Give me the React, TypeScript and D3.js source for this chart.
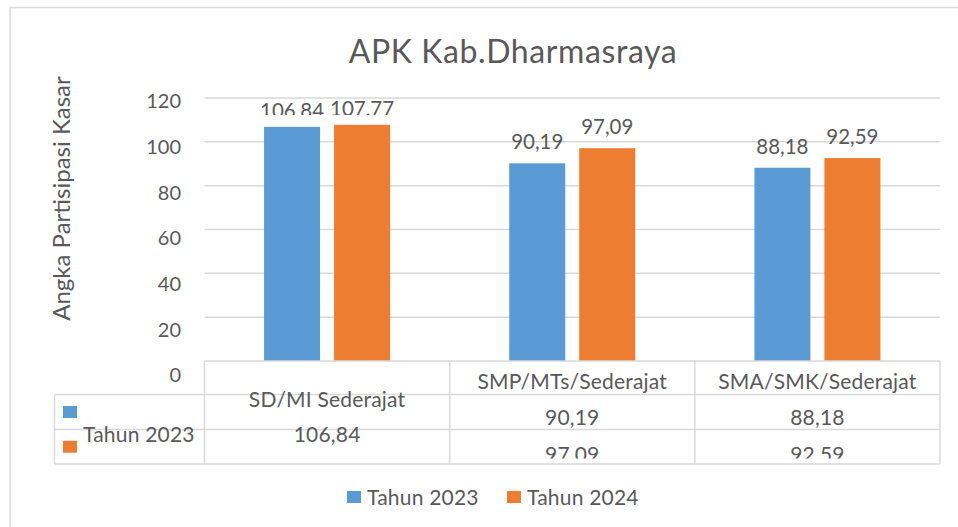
import React from 'react';
import * as d3 from 'd3';

const categories = ['SD/MI Sederajat', 'SMP/MTs/Sederajat', 'SMA/SMK/Sederajat'];
const seriesNames = ['Tahun 2023', 'Tahun 2024'];
const values2023 = [106.84, 90.19, 88.18];
const values2024 = [107.77, 97.09, 92.59];
const yTicks = [0, 20, 40, 60, 80, 100, 120];
const seriesColors = ['#5B9BD5', '#ED7D31'];
const titleText = 'APK Kab.Dharmasraya';
const yTitle = 'Angka Partisipasi Kasar';

const W = 958;
const H = 527;
const FONT = 'Lato, "Open Sans", sans-serif';
const TEXT = '#595959';
const GRID = '#D9D9D9';

export default function App() {
  const series = [values2023, values2024];
  const plotL = 204.5, plotR = 940, plotT = 98, plotB = 361;
  const x0 = d3.scaleBand<string>().domain(categories).range([plotL, plotR]);
  const groupW = x0.bandwidth() * 0.514;
  const x1 = d3.scaleBand<string>().domain(seriesNames).range([0, groupW]).paddingInner(0.2);
  const y = d3.scaleLinear().domain([0, 120]).range([plotB, plotT]);
  const yLab = d3.scaleLinear().domain([0, 120]).range([375, 101]);
  const fmt = (v: number) => d3.format('.2f')(v).replace('.', ',');
  const gx = (c: string) => (x0(c) as number) + (x0.bandwidth() - groupW) / 2;

  const rowLines = [394.5, 429.5, 464];
  const rowY = [381.5, 417, 454];
  const shift = 17.5;
  const legendColL = 54.5;
  const bottomLegendX = [347, 507];

  return (
    <svg width={W} height={H} style={{ position: 'absolute', left: 0, top: 0, background: '#fff' }} fontFamily={FONT}>
      <defs>
        <clipPath id="tableClip">
          <rect x={0} y={361} width={W} height={458.5 - 361} />
        </clipPath>
        <clipPath id="firstLabelClip">
          <rect x={0} y={0} width={W} height={115} />
        </clipPath>
      </defs>
      <rect x={0} y={0} width={W} height={H} fill="#fff" />
      {/* outer frame */}
      <line x1={10} x2={W} y1={7.5} y2={7.5} stroke={GRID} strokeWidth={1.5} />
      <line x1={10} x2={10} y1={7.5} y2={H} stroke={GRID} strokeWidth={1.5} />

      {/* title */}
      <text x={513} y={63} textAnchor="middle" fontSize={32} letterSpacing={0.6} fill={TEXT}>{titleText}</text>

      {/* y axis title */}
      <text transform={`translate(70,198.5) rotate(-90)`} textAnchor="middle" fontSize={24} fill={TEXT}>{yTitle}</text>

      {/* gridlines */}
      {yTicks.filter(t => t > 0).map(t => (
        <line key={t} x1={plotL} x2={plotR} y1={y(t)} y2={y(t)} stroke={GRID} strokeWidth={1.5} />
      ))}
      {/* y tick labels */}
      {yTicks.map(t => (
        <text key={t} x={181} y={yLab(t)} dy="0.36em" textAnchor="end" fontSize={20} fill={TEXT}>{t}</text>
      ))}

      {/* bars */}
      {categories.map((c, i) => (
        <g key={c}>
          {seriesNames.map((s, si) => {
            const v = series[si][i];
            return (
              <rect key={s} x={gx(c) + (x1(s) as number)} y={y(v)} width={x1.bandwidth()} height={y(0) - y(v)} fill={seriesColors[si]} />
            );
          })}
        </g>
      ))}
      {/* bar labels */}
      {categories.map((c, i) => (
        <g key={c} clipPath={i === 0 ? 'url(#firstLabelClip)' : undefined}>
          {seriesNames.map((s, si) => {
            const v = series[si][i];
            return (
              <text key={s} x={gx(c) + (x1(s) as number) + x1.bandwidth() / 2} y={y(v) - (i === 0 ? 9 : 14)} textAnchor="middle" fontSize={20.5} fill={TEXT}>{fmt(v)}</text>
            );
          })}
        </g>
      ))}

      {/* data table lines */}
      <line x1={plotL} x2={plotR} y1={plotB} y2={plotB} stroke={GRID} strokeWidth={1.5} />
      {rowLines.map(ry => (
        <line key={ry} x1={legendColL} x2={plotR} y1={ry} y2={ry} stroke={GRID} strokeWidth={1.5} />
      ))}
      <line x1={legendColL} x2={legendColL} y1={rowLines[0]} y2={rowLines[2]} stroke={GRID} strokeWidth={1.5} />
      {[...categories.map(c => x0(c) as number), plotR].map(vx => (
        <line key={vx} x1={vx} x2={vx} y1={plotB} y2={rowLines[2]} stroke={GRID} strokeWidth={1.5} />
      ))}
      {/* legend keys in table */}
      {seriesNames.map((s, si) => {
        const cy = (rowLines[si] + rowLines[si + 1]) / 2;
        return <rect key={s} x={63} y={cy - 6} width={14} height={12} fill={seriesColors[si]} />;
      })}
      {/* table texts */}
      <g clipPath="url(#tableClip)" fill={TEXT} fontSize={21} letterSpacing={0.2}>
        {categories.map((c, i) => (
          <text key={c} x={(x0(c) as number) + x0.bandwidth() / 2} y={rowY[0] + (i === 0 ? shift : 0)} dy="0.36em" textAnchor="middle">{c}</text>
        ))}
        {seriesNames.map((s, si) => (
          <text key={s} x={83} y={rowY[si + 1] + shift} dy="0.36em">{s}</text>
        ))}
        {seriesNames.map((s, si) =>
          categories.map((c, i) => (
            <text key={s + c} x={(x0(c) as number) + x0.bandwidth() / 2} y={rowY[si + 1] + (i === 0 ? shift : 0)} dy="0.36em" textAnchor="middle">{fmt(series[si][i])}</text>
          ))
        )}
      </g>

      {/* bottom legend */}
      {seriesNames.map((s, si) => (
        <g key={s}>
          <rect x={bottomLegendX[si]} y={491} width={14} height={12} fill={seriesColors[si]} />
          <text x={bottomLegendX[si] + 20} y={497.5} dy="0.36em" fontSize={21} letterSpacing={0.2} fill={TEXT}>{s}</text>
        </g>
      ))}
    </svg>
  );
}
